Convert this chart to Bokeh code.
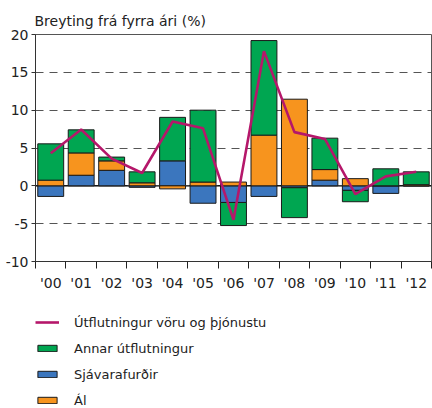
from bokeh.plotting import figure
from bokeh.layouts import column
from bokeh.models import (ColumnDataSource, FixedTicker, Span, Legend, LegendItem, Range1d)
from bokeh.embed import file_html
from bokeh.resources import INLINE
import numpy as np

years = ["'00", "'01", "'02", "'03", "'04", "'05", "'06", "'07", "'08", "'09", "'10", "'11", "'12"]
sjavar = [-1.4, 1.4, 2.05, -0.2, 3.3, -2.3, -2.2, -1.4, -0.25, 0.75, -0.6, -1.0, 0.0]
al = [0.75, 2.95, 1.25, 0.4, -0.4, 0.5, 0.5, 6.7, 11.45, 1.4, 0.95, 0.0, 0.15]
annar = [4.8, 3.05, 0.5, 1.45, 5.75, 9.5, -3.05, 12.5, -3.95, 4.15, -1.5, 2.25, 1.7]
total = [4.3, 7.45, 3.6, 1.7, 8.5, 7.6, -4.5, 17.8, 7.1, 6.2, -1.1, 1.25, 1.85]
y_ticks = [-10, -5, 0, 5, 10, 15, 20]
y_tick_labels = ["-10", "-5", "0", "5", "10", "15", "20"]

GREEN = "#00A651"
BLUE = "#3B76BE"
ORANGE = "#F7941E"
LINE = "#B5176A"
FONT = "DejaVu Sans"
FS = "14px"

n = len(years)
x = np.arange(n)

p = figure(width=432, height=293, x_range=Range1d(-0.5, n - 0.5), y_range=Range1d(-10, 20),
           output_backend="svg", toolbar_location=None,
           min_border_left=35, min_border_right=1, min_border_top=34, min_border_bottom=30)

p.title.text = "Breyting frá fyrra ári (%)"
p.title.text_font = FONT
p.title.text_font_size = FS
p.title.text_font_style = "normal"
p.title.text_color = "#222222"
p.title.align = "left"
p.title.standoff = 11
p.title.offset = -1

p.outline_line_color = "#555555"
p.outline_line_width = 1

# grid
p.xgrid.visible = False
p.ygrid.ticker = FixedTicker(ticks=y_ticks)
p.ygrid.grid_line_color = "#555555"
p.ygrid.grid_line_dash = "8 6"
p.ygrid.grid_line_width = 1

zero = Span(location=0, dimension="width", line_color="black", line_width=1.2, level="underlay")
p.add_layout(zero)

# stacked bars (positive values stack upward, negative downward)
series = [("Sjávarafurðir", sjavar, BLUE), ("Ál", al, ORANGE), ("Annar útflutningur", annar, GREEN)]
pos_base = np.zeros(n)
neg_base = np.zeros(n)
sources = {}
for name, vals, color in series:
    v = np.array(vals, dtype=float)
    bottom = np.where(v >= 0, pos_base, neg_base)
    top = bottom + v
    pos_base = np.where(v >= 0, top, pos_base)
    neg_base = np.where(v < 0, top, neg_base)
    src = ColumnDataSource(dict(x=x, bottom=bottom, top=top))
    sources[name] = (src, color)
    p.vbar(x="x", bottom="bottom", top="top", width=0.85, source=src,
           fill_color=color, line_color="#1a1a1a", line_width=1)

line_src = ColumnDataSource(dict(x=x, y=total))
p.line("x", "y", source=line_src, line_color=LINE, line_width=2.6)

# axes
p.xaxis.ticker = FixedTicker(ticks=list(x), minor_ticks=list(np.arange(n + 1) - 0.5))
p.xaxis.major_label_overrides = {int(i): years[i] for i in range(n)}
p.xaxis.major_tick_out = 0
p.xaxis.major_tick_in = 0
p.xaxis.minor_tick_out = 7
p.xaxis.minor_tick_in = 0
p.xaxis.minor_tick_line_color = "#222222"
p.xaxis.major_label_standoff = 6
p.xaxis.major_label_text_font = FONT
p.xaxis.major_label_text_font_size = FS
p.xaxis.major_label_text_color = "#222222"
p.xaxis.axis_line_color = "#333333"

p.yaxis.ticker = FixedTicker(ticks=y_ticks)
p.yaxis.major_label_overrides = {t: s for t, s in zip(y_ticks, y_tick_labels)}
p.yaxis.major_tick_out = 4
p.yaxis.major_tick_in = 0
p.yaxis.minor_tick_out = 0
p.yaxis.minor_tick_in = 0
p.yaxis.major_label_standoff = 3
p.yaxis.major_label_text_font = FONT
p.yaxis.major_label_text_font_size = FS
p.yaxis.major_label_text_color = "#222222"
p.yaxis.axis_line_color = "#333333"
p.yaxis.major_tick_line_color = "#333333"

# legend in its own panel below the chart (its renderers use the same data, out of view)
q = figure(width=432, height=115, x_range=Range1d(-0.5, n - 0.5), y_range=Range1d(100, 101),
           output_backend="svg", toolbar_location=None, x_axis_type=None, y_axis_type=None,
           min_border=0)
q.outline_line_alpha = 0
q.xgrid.visible = False
q.ygrid.visible = False
lg = {}
lg["line"] = q.line("x", "y", source=line_src, line_color=LINE, line_width=2.6)
for name, (src, color) in sources.items():
    lg[name] = q.vbar(x="x", bottom="bottom", top="top", width=0.85, source=src,
                      fill_color=color, line_color="#1a1a1a", line_width=1)

legend = Legend(items=[
    LegendItem(label="Útflutningur vöru og þjónustu", renderers=[lg["line"]]),
    LegendItem(label="Annar útflutningur", renderers=[lg["Annar útflutningur"]]),
    LegendItem(label="Sjávarafurðir", renderers=[lg["Sjávarafurðir"]]),
    LegendItem(label="Ál", renderers=[lg["Ál"]]),
], location=(0, -2))
legend.label_text_font = FONT
legend.label_text_font_size = "13px"
legend.label_text_color = "#222222"
legend.label_standoff = 15
legend.glyph_width = 24
legend.glyph_height = 8
legend.label_height = 20
legend.spacing = 6
legend.padding = 0
legend.margin = 0
legend.background_fill_alpha = 0
legend.border_line_alpha = 0
q.add_layout(legend)

layout = column(p, q, spacing=0)
open("out.html", "w").write(file_html(layout, INLINE))
